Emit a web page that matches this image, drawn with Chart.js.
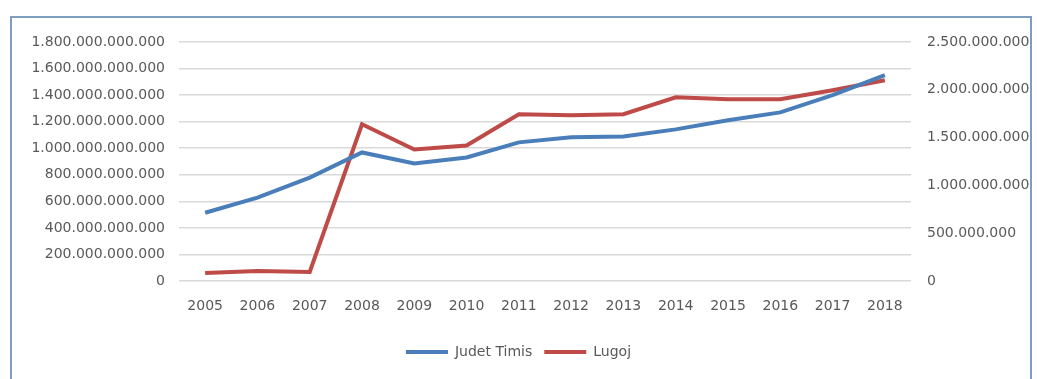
<!DOCTYPE html>
<html>
<head>
<meta charset="utf-8">
<script src="https://cdn.jsdelivr.net/npm/chart.js@4"></script>
<style>
  html, body { margin: 0; padding: 0; background: #fff; }
  #wrap { position: relative; width: 1037px; height: 379px; }
  #frame { position: absolute; left: 10px; top: 16px; width: 1022px; height: 380px;
           border: 2px solid #7f9dbd; box-sizing: border-box; }
  canvas { position: absolute; left: 0; top: 0; }
</style>
</head>
<body>
<div id="wrap">
  <div id="frame"></div>
  <canvas id="grafic" width="1037" height="379"></canvas>
</div>
<script>
const ani = ['2005', '2006', '2007', '2008', '2009', '2010', '2011', '2012', '2013', '2014', '2015', '2016', '2017', '2018'];
const judetTimis = [514e9, 628e9, 779e9, 968e9, 885e9, 930e9, 1044e9, 1082e9, 1089e9, 1142e9, 1210e9, 1270e9, 1400e9, 1550e9];
const lugoj = [84e6, 105e6, 95e6, 1639e6, 1376e6, 1418e6, 1744e6, 1733e6, 1744e6, 1922e6, 1901e6, 1901e6, 1996e6, 2100e6];

const formatNr = v => Number(v).toLocaleString('de-DE');
const textColor = '#595959';

Chart.defaults.font.family = '"DejaVu Sans", sans-serif';
Chart.defaults.font.size = 14;
Chart.defaults.color = textColor;

const ctx = document.getElementById('grafic').getContext('2d');

new Chart(ctx, {
    type: 'line',
    data: {
        labels: ani,
        datasets: [{
            label: 'Judet Timis',
            data: judetTimis,
            borderColor: '#4a7ebb',
            backgroundColor: '#4a7ebb',
            borderWidth: 4,
            pointRadius: 0,
            tension: 0,
            yAxisID: 'y'
        }, {
            label: 'Lugoj',
            data: lugoj,
            borderColor: '#be4b48',
            backgroundColor: '#be4b48',
            borderWidth: 4,
            pointRadius: 0,
            tension: 0,
            yAxisID: 'y1'
        }]
    },
    options: {
        responsive: false,
        animation: false,
        layout: { padding: { top: 42, bottom: 10 } },
        plugins: {
            legend: {
                position: 'bottom',
                labels: {
                    usePointStyle: true,
                    pointStyle: 'line',
                    pointStyleWidth: 42,
                    padding: 12,
                    color: textColor
                }
            },
            tooltip: { enabled: false }
        },
        scales: {
            x: {
                offset: true,
                grid: { display: false, drawTicks: false, offset: true },
                border: { display: false },
                ticks: { padding: 17, maxRotation: 0 },
                afterFit: s => { s.height = 52; }
            },
            y: {
                position: 'left',
                min: 0,
                max: 1.8e12,
                ticks: { stepSize: 2e11, padding: 14, callback: formatNr },
                grid: { color: '#d9d9d9', lineWidth: 1.5, drawTicks: false },
                border: { display: false },
                afterFit: s => { s.width = 179; }
            },
            y1: {
                position: 'right',
                min: 0,
                max: 2.5e9,
                ticks: { stepSize: 5e8, padding: 16, callback: formatNr },
                grid: { display: false, drawTicks: false },
                border: { display: false },
                afterFit: s => { s.width = 126; }
            }
        }
    }
});
</script>
</body>
</html>
